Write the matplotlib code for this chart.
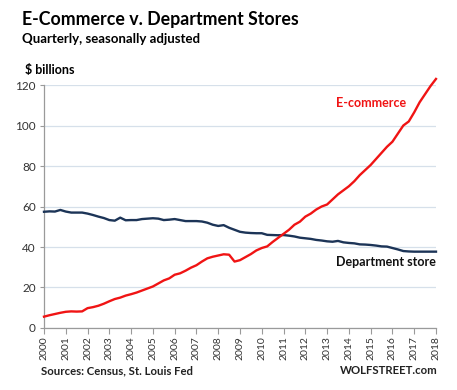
import matplotlib
matplotlib.use("Agg")
import matplotlib.pyplot as plt
import numpy as np

plt.rcParams['font.family'] = ['Lato', 'DejaVu Sans']

# quarterly, 2000Q1 .. 2018Q1
years = np.arange(2000, 2018.01, 0.25)

ecommerce = [
    5.6, 6.3, 6.9, 7.5,
    8.0, 8.2, 8.1, 8.2,
    9.8, 10.3, 11.0, 12.0,
    13.2, 14.3, 15.0, 16.0,
    16.7, 17.5, 18.5, 19.5,
    20.5, 22.0, 23.5, 24.5,
    26.3, 27.0, 28.3, 29.8,
    31.0, 32.8, 34.4, 35.2,
    35.8, 36.4, 36.2, 32.8,
    33.5, 35.0, 36.5, 38.3,
    39.5, 40.3, 42.5, 44.5,
    46.5, 48.5, 51.0, 52.5,
    55.0, 56.5, 58.5, 60.0,
    61.0, 63.5, 66.0, 68.0,
    70.0, 72.5, 75.5, 78.0,
    80.5, 83.5, 86.5, 89.5,
    92.0, 96.0, 100.0, 102.0,
    106.5, 111.5, 115.5, 119.5,
    123.0,
]

dept_store = [
    57.4, 57.6, 57.5, 58.3,
    57.5, 57.0, 57.0, 57.0,
    56.5, 55.8, 55.0, 54.3,
    53.3, 53.0, 54.5, 53.2,
    53.3, 53.3, 53.8, 54.0,
    54.2, 54.0, 53.3, 53.5,
    53.8, 53.3, 52.8, 52.8,
    52.8, 52.6, 52.0, 51.0,
    50.4, 50.8, 49.5, 48.5,
    47.5, 47.1, 46.9, 46.8,
    46.8, 46.0, 45.9, 45.8,
    45.9, 45.6, 45.2, 44.6,
    44.3, 44.0, 43.5, 43.2,
    42.8, 42.6, 43.0, 42.3,
    42.0, 41.8, 41.3, 41.2,
    41.0, 40.7, 40.3, 40.2,
    39.5, 38.8, 38.0, 37.8,
    37.7, 37.7, 37.7, 37.7,
    37.7,
]

year_ticks = list(range(2000, 2019))
y_ticks = [0, 20, 40, 60, 80, 100, 120]

red = '#f01414'
navy = '#1c3457'
axis_gray = '#9a9a9a'

fig = plt.figure(figsize=(4.57, 3.90), dpi=100)
ax = fig.add_axes([0.0963, 0.159, 0.954 - 0.0963, 0.782 - 0.159])

ax.plot(years, dept_store, color=navy, lw=1.7, clip_on=False, zorder=3)
ax.plot(years, ecommerce, color=red, lw=1.7, clip_on=False, zorder=4)

ax.set_xlim(2000, 2018)
ax.set_ylim(0, 120)
ax.set_yticks(y_ticks)
ax.set_xticks(year_ticks)
ax.set_xticklabels([str(y) for y in year_ticks], rotation=90)
ax.grid(axis='y', color='#d6e0ea', lw=0.9)
ax.set_axisbelow(True)

for side in ['top', 'right']:
    ax.spines[side].set_visible(False)
for side in ['left', 'bottom']:
    ax.spines[side].set_color(axis_gray)
    ax.spines[side].set_linewidth(0.9)

ax.tick_params(axis='x', direction='out', length=4, color=axis_gray,
               labelsize=7.5, labelcolor='#333333', pad=2)
ax.tick_params(axis='y', direction='out', length=3, color=axis_gray,
               labelsize=8.5, labelcolor='#333333', pad=3)

ax.text(2015.0, 111, 'E-commerce', color=red, fontsize=9,
        fontweight='bold', ha='center', va='center')
ax.text(2018, 32.5, 'Department store', color='#111111', fontsize=9,
        fontweight='bold', ha='right', va='center')

fig.text(22 / 457, 1 - 20 / 390, 'E-Commerce v. Department Stores',
         fontsize=12.8, fontweight='bold', ha='left', va='center')
fig.text(22 / 457, 1 - 39 / 390, 'Quarterly, seasonally adjusted',
         fontsize=9.5, fontweight='bold', ha='left', va='center')
fig.text(25 / 457, 1 - 70 / 390, '$ billions',
         fontsize=9, fontweight='bold', ha='left', va='center')
fig.text(41 / 457, 1 - 371 / 390, 'Sources: Census, St. Louis Fed',
         fontsize=8.2, fontweight='bold', ha='left', va='center', color='#222222')
fig.text(438 / 457, 1 - 371 / 390, 'WOLFSTREET.com',
         fontsize=8.2, fontweight='bold', ha='right', va='center', color='#222222')

fig.savefig('out.png', dpi=100)
